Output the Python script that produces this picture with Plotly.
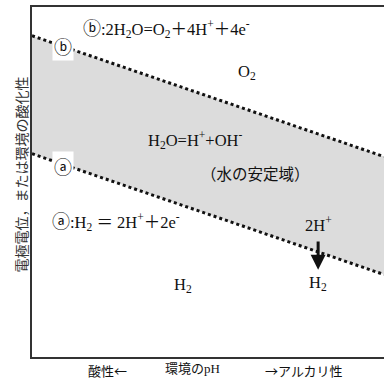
import plotly.graph_objects as go

# pH axis (arbitrary span) and the two water-stability boundary lines
ph = [0, 14]
e_upper = [1.23, -0.03]   # (b) O2 / H2O boundary
e_lower = [0.0, -1.26]    # (a) H2 / H+ boundary

x_range = [0, 14]
y_range = [-2.12, 1.53]

FONT = "Liberation Serif, DejaVu Serif, Noto Sans CJK JP, serif"
CJK = "Noto Sans CJK JP"
INK = "#111111"


def cjk(s, size=None):
    extra = f";font-size:{size}px" if size else ""
    return f'<span style="font-family:{CJK}{extra}">{s}</span>'


fig = go.Figure()

fig.add_trace(go.Scatter(
    x=ph, y=e_lower, mode="lines",
    line=dict(color=INK, width=3, dash="dot"),
    hoverinfo="skip", showlegend=False,
))
fig.add_trace(go.Scatter(
    x=ph, y=e_upper, mode="lines", fill="tonexty",
    fillcolor="#dcdcdc",
    line=dict(color=INK, width=3, dash="dot"),
    hoverinfo="skip", showlegend=False,
))


def note(text, x, y, size=16.5, xanchor="center", family=FONT, **kw):
    fig.add_annotation(text=text, x=x, y=y, xref="x", yref="y",
                       showarrow=False, xanchor=xanchor,
                       font=dict(family=family, size=size, color=INK), **kw)


# circled markers on the boundary lines
note("ⓑ", 1.23, 1.12, size=18, family=CJK, bgcolor="white", borderpad=1)
note("ⓐ", 1.23, -0.13, size=18, family=CJK, bgcolor="white", borderpad=1)

# reaction equations and region labels
note(cjk("ⓑ", 18) + ":2H<sub>2</sub>O=O<sub>2</sub>＋4H<sup>+</sup>＋4e<sup>-</sup>",
     1.95, 1.32, xanchor="left")
note("O<sub>2</sub>", 8.55, 0.85)
note("H<sub>2</sub>O=H<sup>+</sup>+OH<sup>-</sup>", 4.55, 0.14, xanchor="left")
note("（水の安定域）", 8.9, -0.22, size=15.5)
note(cjk("ⓐ", 18) + ":H<sub>2</sub> ＝ 2H<sup>+</sup>＋2e<sup>-</sup>",
     0.7, -0.69, xanchor="left")
note("2H<sup>+</sup>", 11.38, -0.74)
note("H<sub>2</sub>", 11.38, -1.35)
note("H<sub>2</sub>", 6.0, -1.37)

# reduction arrow 2H+ -> H2
fig.add_annotation(x=11.38, y=-1.21, ax=11.38, ay=-0.90,
                   xref="x", yref="y", axref="x", ayref="y",
                   showarrow=True, arrowhead=2, arrowsize=1,
                   arrowwidth=3, arrowcolor=INK, text="")

# axis captions
captions = [("酸性" + cjk("←"), 3.0), ("環境のpH", 6.4), (cjk("→") + "アルカリ性", 10.8)]
for txt, xv in captions:
    fig.add_annotation(text=txt, x=xv, y=0, xref="x", yref="paper",
                       yanchor="top", yshift=-2, showarrow=False,
                       font=dict(family=FONT, size=13, color=INK))
fig.add_annotation(text="電極電位，または環境の酸化性", x=0, y=0.52,
                   xref="paper", yref="paper", xshift=-20, textangle=-90,
                   showarrow=False,
                   font=dict(family=FONT, size=14, color="#333"))

fig.update_xaxes(range=x_range, showline=True, mirror=True, linecolor="#333",
                 linewidth=2, showgrid=False, zeroline=False,
                 showticklabels=False, ticks="")
fig.update_yaxes(range=y_range, showline=True, linecolor="#333",
                 linewidth=2, showgrid=False, zeroline=False,
                 showticklabels=False, ticks="")

fig.update_layout(width=384, height=379,
                  margin=dict(l=32, r=0, t=7, b=22),
                  paper_bgcolor="white", plot_bgcolor="white")

fig.write_html("out.html")
